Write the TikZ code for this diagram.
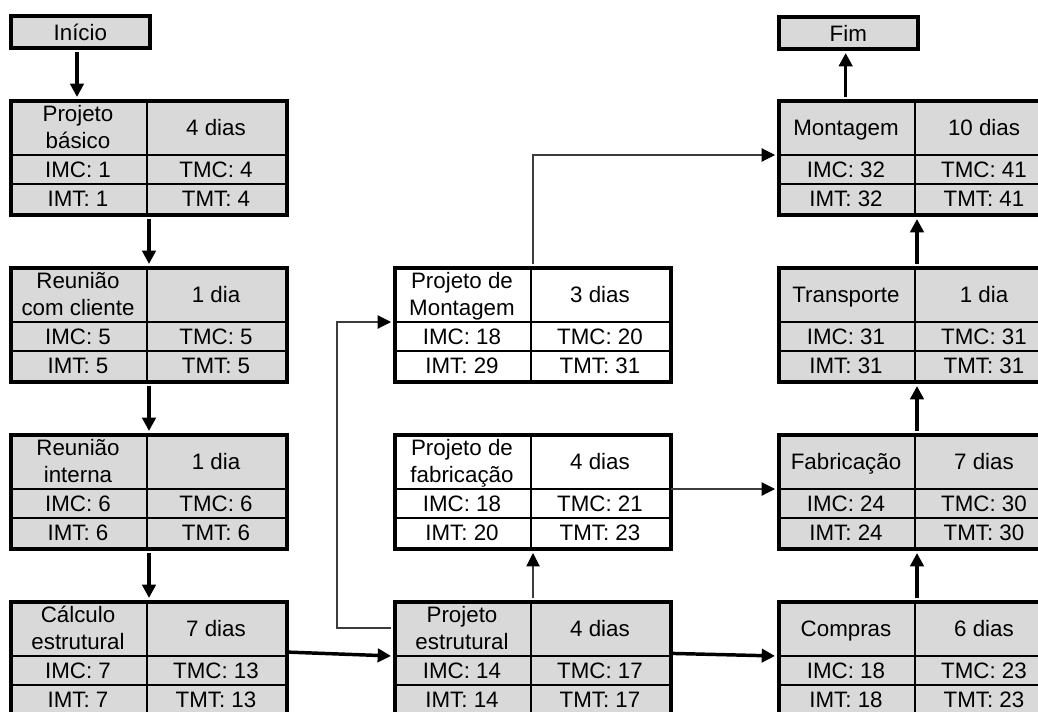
\documentclass[tikz,border=0pt]{standalone}
\usepackage{fontspec}
\setmainfont{Liberation Sans}
\usetikzlibrary{arrows.meta}
\definecolor{cellgray}{RGB}{217,217,217}
\definecolor{thinline}{RGB}{60,60,60}
\tikzset{
  cell/.style={fill=cellgray},
  celltext/.style={font=\fontsize{16.75}{20}\selectfont, align=center, inner sep=0pt, text=black, text height=12pt, text depth=0pt},
  titleh/.style={},
  twoline/.style={titleh/.style={text height=32pt}},
  outerbox/.style={draw=black, line width=3pt, inner sep=0pt, minimum width=207pt, minimum height=85.5pt, anchor=north west},
  innerline/.style={draw=black, line width=1.5pt},
  endbox/.style={draw=black, line width=3pt, fill=cellgray, minimum width=104pt, minimum height=24pt, inner sep=0pt, anchor=north west, font=\fontsize{16.75}{20}\selectfont, text=black, text height=12pt, text depth=0pt},
  bigarrow/.style={line width=2.6pt, draw=black, -{Triangle[length=10pt,width=10pt]}, shorten >=1.5pt, shorten <=1.5pt},
  thinarrow/.style={line width=0.8pt, draw=thinline, -{Triangle[length=10pt,width=10pt,color=black,fill=black]}, shorten >=1.5pt, shorten <=1.5pt}
}
\newcommand\taskbox[9]{%
  \path[cell] (#2,#3) rectangle ++(276,114);
  \draw[innerline] (#2+138,#3) -- ++(0,114);
  \draw[innerline] (#2,#3+56) -- ++(276,0);
  \draw[innerline] (#2,#3+85) -- ++(276,0);
  \node[outerbox] (#1) at (#2,#3) {};
  \coordinate (#1-l1w) at (#2,#3+56);
  \coordinate (#1-l1e) at (#2+276,#3+56);
  \node[celltext, titleh] (#1-t) at (#2+69,#3+28) {#4};
  \node[celltext] (#1-d) at (#2+207,#3+28) {#5};
  \node[celltext] (#1-imc) at (#2+69,#3+70.5) {IMC: #6};
  \node[celltext] (#1-tmc) at (#2+207,#3+70.5) {TMC: #7};
  \node[celltext] (#1-imt) at (#2+69,#3+99.5) {IMT: #8};
  \node[celltext] (#1-tmt) at (#2+207,#3+99.5) {TMT: #9};
}
\begin{document}
\begin{tikzpicture}[x=0.75pt, y=-0.75pt]
\useasboundingbox[fill=white] (0,0) rectangle (1038,711);
\clip (0,0) rectangle (1038,711);
% start / end
\node[endbox] (ini) at (9,14) {Início};
\node[endbox] (fim) at (777,15) {Fim};
\begin{scope}[twoline]
% left column
\taskbox{pb}{9}{99}{Projeto\\básico}{4 dias}{1}{4}{1}{4}
\taskbox{rc}{9}{266}{Reunião\\com cliente}{1 dia}{5}{5}{5}{5}
\taskbox{ri}{9}{433}{Reunião\\interna}{1 dia}{6}{6}{6}{6}
\taskbox{ce}{9}{600}{Cálculo\\estrutural}{7 dias}{7}{13}{7}{13}
% middle column
\begin{scope}[cell/.style={fill=white}]
\taskbox{pm}{393}{266}{Projeto de\\Montagem}{3 dias}{18}{20}{29}{31}
\taskbox{pf}{393}{433}{Projeto de\\fabricação}{4 dias}{18}{21}{20}{23}
\end{scope}
\taskbox{pe}{393}{600}{Projeto\\estrutural}{4 dias}{14}{17}{14}{17}
\end{scope}
% right column
\taskbox{mo}{777}{99}{Montagem}{10 dias}{32}{41}{32}{41}
\taskbox{tr}{777}{266}{Transporte}{1 dia}{31}{31}{31}{31}
\taskbox{fa}{777}{433}{Fabricação}{7 dias}{24}{30}{24}{30}
\taskbox{co}{777}{600}{Compras}{6 dias}{18}{23}{18}{23}
% connectors
\draw[bigarrow] ([xshift=-2.5pt]ini.south) -- ([xshift=-2.5pt]ini.south |- pb.north);
\draw[bigarrow] (pb.south) -- (rc.north);
\draw[bigarrow] (rc.south) -- (ri.north);
\draw[bigarrow] (ri.south) -- (ce.north);
\draw[bigarrow] ([yshift=3pt]ce-l1e) -- (pe-l1w);
\draw[bigarrow] ([yshift=2pt]pe-l1e) -- (co-l1w);
\draw[thinarrow] (pe-t -| pe.west) -- ++(-56,0) |- (pm-l1w);
\draw[thinarrow] (pe.north) -- (pf.south);
\draw[thinarrow] (pm.north) |- (mo-l1w);
\draw[thinarrow] (pf-l1e) -- (fa-l1w);
\draw[bigarrow] (co.north) -- (fa.south);
\draw[bigarrow] (fa.north) -- (tr.south);
\draw[bigarrow] (tr.north) -- (mo.south);
\draw[bigarrow] ([xshift=-2pt]mo.north -| fim.south) -- ([xshift=-2pt]fim.south);
\end{tikzpicture}
\end{document}
